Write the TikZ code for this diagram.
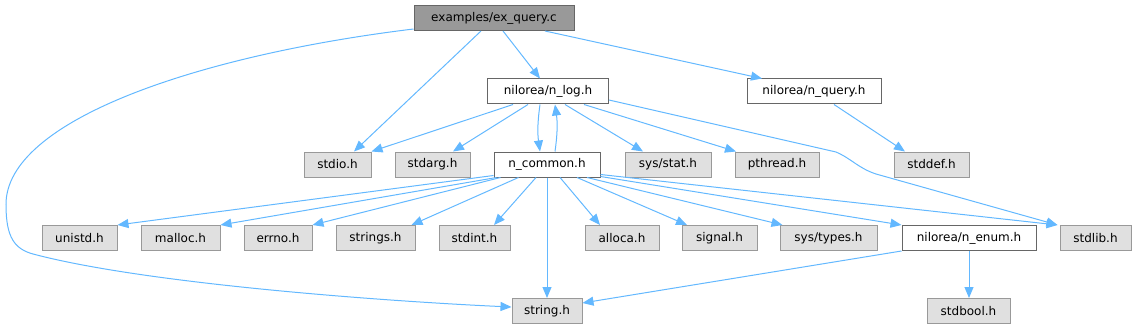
\documentclass[tikz,border=0pt]{standalone}
\usepackage{fontspec}
\setmainfont{DejaVu Sans}
\usetikzlibrary{arrows.meta,positioning,calc}
\definecolor{Edge}{HTML}{63B8FF}
\definecolor{SysFill}{HTML}{E0E0E0}
\definecolor{SysLine}{HTML}{999999}
\definecolor{FileLine}{HTML}{666666}
\definecolor{RootFill}{HTML}{999999}
\tikzset{box/.style={rectangle,inner sep=0pt,minimum height=25pt,line width=1pt,font=\fontsize{12}{14}\selectfont,text=black},
  sysbox/.style={box,draw=SysLine,fill=SysFill},
  filebox/.style={box,draw=FileLine,fill=white},
  rootbox/.style={box,draw=FileLine,fill=RootFill},
  dep/.style={-{Triangle[length=11pt,width=9pt]},line width=1pt,draw=Edge,fill=none}}

\begin{document}
\begin{tikzpicture}[x=1pt,y=-1pt]
\useasboundingbox (0,0) rectangle (1136,329);
% row 0 and 1
\node[rootbox,minimum width=160pt] (exquery) at (494,18) {examples/ex\_query.c};
\node[filebox,minimum width=121pt] (nlog) at (548,91.5) {nilorea/n\_log.h};
\node[filebox,minimum width=134pt] (nquery) at (814,91.5) {nilorea/n\_query.h};
% row 2
\node[sysbox,minimum width=67pt] (stdio) at (337.5,164.5) {stdio.h};
\node[sysbox,minimum width=75pt] (stdarg) at (432.5,164.5) {stdarg.h};
\node[filebox,minimum width=106pt] (ncommon) at (547,164.5) {n\_common.h};
\node[sysbox,minimum width=86pt] (sysstat) at (668,164.5) {sys/stat.h};
\node[sysbox,minimum width=84pt] (pthread) at (777,164.5) {pthread.h};
\node[sysbox,minimum width=75pt] (stddef) at (931.5,164.5) {stddef.h};
% row 3
\node[sysbox,minimum width=75pt] (unistd) at (79.5,238) {unistd.h};
\node[sysbox,minimum width=79pt] (malloc) at (180.5,238) {malloc.h};
\node[sysbox,minimum width=68pt] (errno) at (278,238) {errno.h};
\node[sysbox,minimum width=79pt] (strings) at (375.5,238) {strings.h};
\node[sysbox,minimum width=71pt] (stdint) at (474.5,238) {stdint.h};
\node[sysbox,minimum width=74pt] (alloca) at (622,238) {alloca.h};
\node[sysbox,minimum width=75pt] (signal) at (719.5,238) {signal.h};
\node[sysbox,minimum width=97pt] (systypes) at (828.5,238) {sys/types.h};
\node[filebox,minimum width=134pt] (nenum) at (969,238) {nilorea/n\_enum.h};
\node[sysbox,minimum width=71pt] (stdlib) at (1095.5,238) {stdlib.h};
% row 4
\node[sysbox,minimum width=70pt] (string) at (547,311) {string.h};
\node[sysbox,minimum width=83pt] (stdbool) at (968.5,311) {stdbool.h};

% ex_query.c
\draw[dep] ([xshift=9pt]exquery.south) -- ([xshift=-8pt]nlog.north);
\draw[dep] ([xshift=-13pt]exquery.south) -- ([xshift=16.5pt]stdio.north);
\draw[dep] ([xshift=51pt]exquery.south) -- ([xshift=-52pt]nquery.north);
\draw[dep] ([yshift=2pt]exquery.south west) .. controls (200,55) and (5,120) .. (6,205)
  .. controls (6,238) and (15,249) .. (33,254)
  .. controls (150,285) and (400,302) .. ([yshift=4pt]string.west);
% n_log.h
\draw[dep] ([xshift=-35pt]nlog.south) -- (stdio.north east);
\draw[dep] ([xshift=-20pt]nlog.south) -- ([xshift=20.5pt]stdarg.north);
\draw[dep] ([xshift=-8pt]nlog.south) to[bend right=8] ([xshift=-7pt]ncommon.north);
\draw[dep] ([xshift=8pt]ncommon.north) to[bend right=8] ([xshift=7pt]nlog.south);
\draw[dep] ([xshift=17pt]nlog.south) -- ([xshift=-25pt]sysstat.north);
\draw[dep] ([xshift=36pt]nlog.south) -- ([xshift=-41pt]pthread.north);
\draw[dep] ([yshift=-8.5pt]nlog.east) -- (836,152) .. controls (852,159) and (858,168) .. (876,174)
  -- ([xshift=-2pt]stdlib.north west);
% n_query.h
\draw[dep] ([xshift=20pt]nquery.south) -- ([xshift=-26.5pt]stddef.north);
% n_common.h
\draw[dep] ([yshift=2pt]ncommon.south west) -- (unistd.north east);
\draw[dep] ([xshift=3pt]ncommon.south west) -- (malloc.north east);
\draw[dep] ([xshift=7pt]ncommon.south west) -- (errno.north east);
\draw[dep] ([xshift=25pt]ncommon.south west) -- ([xshift=-4pt]strings.north east);
\draw[dep] ([xshift=-11pt]ncommon.south) -- ([xshift=19.5pt]stdint.north);
\draw[dep] (ncommon.south) -- (string.north);
\draw[dep] ([xshift=13pt]ncommon.south) -- ([xshift=-22pt]alloca.north);
\draw[dep] ([xshift=30pt]ncommon.south) -- ([xshift=-32.5pt]signal.north);
\draw[dep] ([xshift=40pt]ncommon.south) -- ([xshift=3pt]systypes.north west);
\draw[dep] ([yshift=1pt]ncommon.south east) -- (nenum.north west);
\draw[dep] ([yshift=3pt]ncommon.south east) -- ([xshift=-2pt]stdlib.north west);
% n_enum.h
\draw[dep] (nenum.south west) -- ([yshift=8pt]string.east);
\draw[dep] (nenum.south) -- ([xshift=.5pt]stdbool.north);
\end{tikzpicture}
\end{document}
